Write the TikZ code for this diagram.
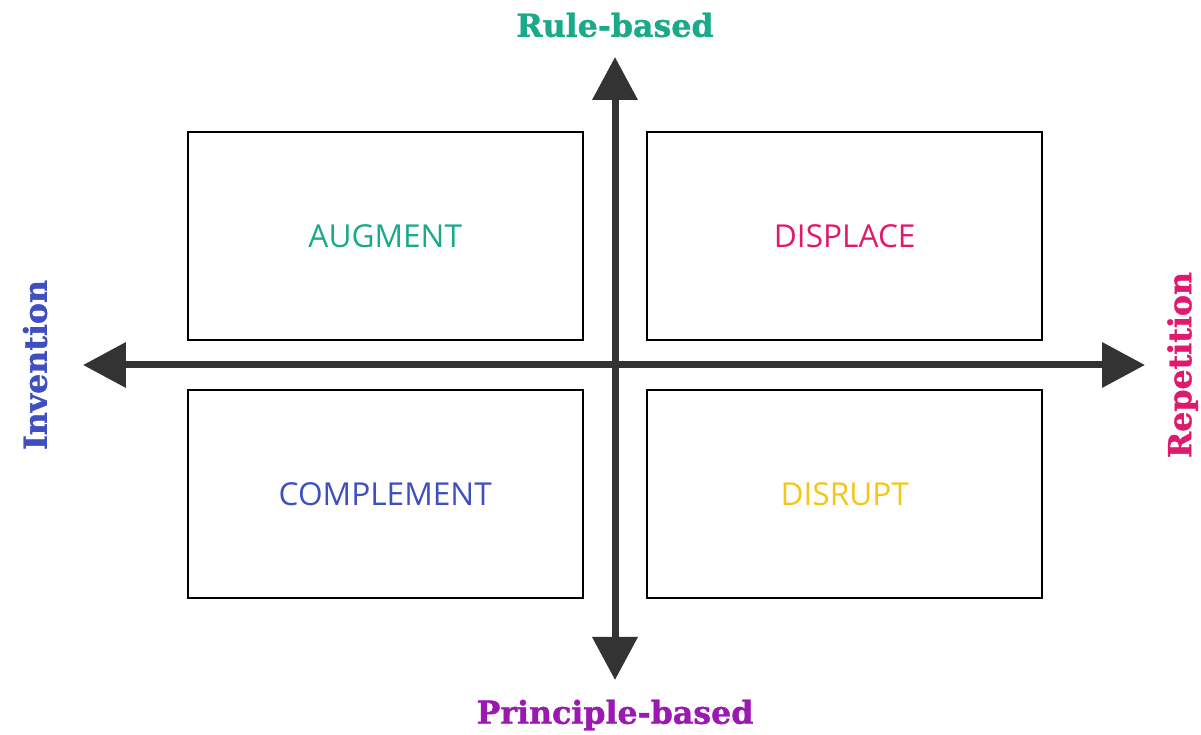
\documentclass[tikz,border=0pt]{standalone}
\usepackage{fontspec}
\setmainfont{DejaVu Serif}[BoldFeatures={FakeBold=1.2}]
\newfontfamily\boxfont{Open Sans}
\usetikzlibrary{arrows.meta}

\definecolor{ruleteal}{HTML}{1AAA8A}
\definecolor{princpurple}{HTML}{9A19B0}
\definecolor{invblue}{HTML}{3F4FBF}
\definecolor{reppink}{HTML}{E0196E}
\definecolor{disyellow}{HTML}{F5C518}
\definecolor{axisgray}{HTML}{333333}

\tikzset{
    quadrant/.style={draw,line width=1.4pt,minimum width=7.9cm,minimum height=4.16cm,
        font=\boxfont\fontsize{18}{18}\selectfont},
    axislabel/.style={font=\bfseries\fontsize{18}{18}\selectfont},
    axisline/.style={axisgray,line width=0.14cm,{Triangle[length=0.86cm,width=0.88cm]}-{Triangle[length=0.86cm,width=0.88cm]}}
}

\begin{document}
\begin{tikzpicture}
                \useasboundingbox (-12.3,-7.4) rectangle (11.72,7.3);
                % the four quadrants
                \node[quadrant,anchor=south east,text=ruleteal] (augment) at (-0.62,0.48) {AUGMENT};
                \node[quadrant,anchor=south west,text=reppink] (displace) at (0.62,0.48) {DISPLACE};
                \node[quadrant,anchor=north east,text=invblue] (complement) at (-0.62,-0.48) {COMPLEMENT};
                \node[quadrant,anchor=north west,text=disyellow] (disrupt) at (0.62,-0.48) {DISRUPT};
                % axes
                \coordinate (top) at (0,6.16);
                \coordinate (bottom) at (0,-6.3);
                \coordinate (left) at (-10.64,0);
                \coordinate (right) at (10.6,0);
                \draw[axisline] (bottom) -- (top);
                \draw[axisline] (left) -- (right);
                % axis names
                \node[axislabel,text=ruleteal] (rule) at (0,6.8) {Rule-based};
                \node[axislabel,text=princpurple] (principle) at (0,-7.0) {Principle-based};
                \node[axislabel,text=invblue,rotate=90] (invention) at (-11.6,0) {Invention};
                \node[axislabel,text=reppink,rotate=90] (repetition) at (11.35,0) {Repetition};
            \end{tikzpicture}
\end{document}
